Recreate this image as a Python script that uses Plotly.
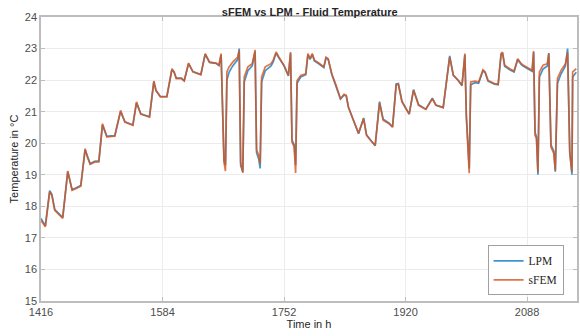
import plotly.graph_objects as go

time_h = [1416, 1419, 1422, 1428, 1431, 1435, 1439, 1446, 1453, 1459, 1464, 1471,
          1477, 1480, 1484, 1490, 1496, 1501, 1507, 1513, 1518, 1526, 1532, 1543,
          1548, 1554, 1563, 1566, 1572, 1575, 1581, 1590, 1597, 1600, 1603, 1610,
          1614, 1620, 1626, 1637, 1643, 1649, 1658, 1662, 1665, 1668, 1669, 1671,
          1673, 1676, 1681, 1688, 1690, 1692, 1695, 1697, 1702, 1708, 1712, 1714,
          1717, 1719, 1721, 1726, 1734, 1737, 1741, 1745, 1752, 1758, 1761, 1763,
          1766, 1768, 1770, 1775, 1782, 1785, 1788, 1791, 1794, 1800, 1807, 1810,
          1813, 1818, 1824, 1830, 1835, 1838, 1841, 1848, 1855, 1862, 1866, 1871,
          1878, 1884, 1889, 1897, 1902, 1907, 1910, 1915, 1925, 1931, 1938, 1948,
          1957, 1962, 1972, 1981, 1986, 1993, 1998, 2002, 2004, 2008, 2010, 2016,
          2021, 2027, 2030, 2034, 2043, 2048, 2052, 2054, 2057, 2064, 2070, 2075,
          2080, 2083, 2090, 2095, 2097, 2099, 2101, 2103, 2105, 2110, 2116, 2118,
          2121, 2125, 2127, 2130, 2135, 2141, 2144, 2147, 2150, 2151, 2156]

sfem = [17.55, 17.45, 17.35, 18.46, 18.35, 17.87, 17.77, 17.62, 19.12, 18.51, 18.56, 18.64,
        19.83, 19.56, 19.33, 19.40, 19.41, 20.62, 20.20, 20.21, 20.22, 21.04, 20.67, 20.57,
        21.31, 20.92, 20.87, 20.83, 21.97, 21.68, 21.47, 21.47, 22.36, 22.26, 22.05, 22.05,
        21.97, 22.54, 22.26, 22.17, 22.84, 22.57, 22.54, 22.47, 22.84, 19.56, 19.40, 19.12,
        22.26, 22.42, 22.57, 22.73, 22.94, 19.40, 19.06, 22.10, 22.42, 22.52, 22.96, 19.78,
        19.62, 19.35, 22.10, 22.42, 22.52, 22.63, 22.89, 22.73, 22.47, 22.15, 22.89, 20.04,
        19.88, 19.06, 21.99, 22.15, 22.20, 22.84, 22.68, 22.84, 22.63, 22.54, 22.42, 22.73,
        22.68, 22.20, 21.84, 21.41, 21.55, 21.52, 21.15, 20.73, 20.32, 20.78, 20.25, 20.11,
        19.93, 21.28, 20.73, 20.62, 20.51, 21.84, 21.87, 21.31, 20.92, 21.68, 21.20, 21.07,
        21.41, 21.20, 21.13, 22.73, 22.15, 21.99, 21.84, 22.84, 20.83, 19.05, 21.94, 21.97,
        21.94, 22.33, 22.26, 21.99, 21.89, 21.87, 22.84, 22.89, 22.47, 22.36, 22.29, 22.68,
        22.52, 22.47, 22.36, 22.31, 22.92, 20.25, 20.15, 19.09, 22.26, 22.47, 22.52, 22.84,
        19.88, 19.67, 19.14, 22.05, 22.31, 22.52, 22.88, 19.67, 19.09, 22.26, 22.36]

lpm = [17.62, 17.50, 17.38, 18.50, 18.38, 17.90, 17.80, 17.65, 19.10, 18.53, 18.58, 18.66,
       19.80, 19.58, 19.35, 19.43, 19.44, 20.58, 20.22, 20.23, 20.24, 21.00, 20.68, 20.58,
       21.28, 20.93, 20.88, 20.84, 21.95, 21.66, 21.48, 21.48, 22.33, 22.25, 22.06, 22.06,
       21.98, 22.52, 22.27, 22.18, 22.82, 22.56, 22.53, 22.46, 22.80, 19.60, 19.45, 19.30,
       22.00, 22.25, 22.45, 22.65, 23.00, 19.30, 19.10, 21.95, 22.30, 22.45, 22.90, 19.70,
       19.50, 19.20, 21.95, 22.30, 22.45, 22.58, 22.86, 22.70, 22.45, 22.13, 22.85, 20.10,
       19.95, 19.30, 21.90, 22.10, 22.17, 22.80, 22.66, 22.81, 22.61, 22.52, 22.40, 22.70,
       22.66, 22.18, 21.82, 21.40, 21.53, 21.50, 21.14, 20.71, 20.30, 20.80, 20.27, 20.12,
       19.92, 21.32, 20.76, 20.64, 20.52, 21.88, 21.89, 21.33, 20.92, 21.70, 21.22, 21.08,
       21.43, 21.21, 21.13, 22.77, 22.16, 21.98, 21.82, 22.80, 20.90, 19.20, 21.85, 21.92,
       21.90, 22.30, 22.24, 21.97, 21.87, 21.85, 22.80, 22.86, 22.44, 22.33, 22.26, 22.65,
       22.49, 22.44, 22.34, 22.28, 22.88, 20.35, 20.20, 19.00, 22.10, 22.35, 22.45, 22.86,
       19.95, 19.75, 19.10, 21.90, 22.20, 22.45, 23.00, 19.75, 19.00, 22.10, 22.25]

x_ticks = [1416, 1584, 1752, 1920, 2088]

fig = go.Figure()
fig.add_trace(go.Scatter(x=time_h, y=lpm, mode="lines", name="LPM",
                         line=dict(color="rgba(0,114,189,0.75)", width=1.7)))
fig.add_trace(go.Scatter(x=time_h, y=sfem, mode="lines", name="sFEM",
                         line=dict(color="rgba(217,83,25,0.8)", width=1.7)))

axis_common = dict(showline=True, linecolor="#bdbdbd", linewidth=1.5, mirror="ticks",
                   ticks="inside", ticklen=4, tickcolor="#bdbdbd",
                   showgrid=True, gridcolor="#ececec", gridwidth=1, zeroline=False,
                   tickfont=dict(family="Liberation Sans, Arial", size=11, color="#4d4d4d"))

fig.update_layout(
    width=580, height=336,
    margin=dict(l=41, r=1, t=17, b=35),
    paper_bgcolor="white", plot_bgcolor="white",
    title=dict(text="<b>sFEM vs LPM - Fluid Temperature</b>", x=0.534, xanchor="center",
               y=0.975, yanchor="top",
               font=dict(family="Liberation Sans, Arial", size=11, color="#262626")),
    xaxis=dict(range=[1416, 2157], tickvals=x_ticks, ticktext=[str(v) for v in x_ticks],
               title=dict(text="Time in h", standoff=2,
                          font=dict(family="Liberation Sans, Arial", size=11, color="#262626")),
               **axis_common),
    yaxis=dict(range=[15, 24], dtick=1,
               title=dict(text="Temperature in °C", standoff=4,
                          font=dict(family="Liberation Sans, Arial", size=11, color="#262626")),
               **axis_common),
    legend=dict(x=0.975, y=0.02, xanchor="right", yanchor="bottom",
                bgcolor="white", bordercolor="#a0a0a0", borderwidth=1,
                font=dict(family="Liberation Serif, Times New Roman", size=11.5, color="#262626"),
                tracegroupgap=0, itemwidth=30),
    showlegend=True,
)

fig.write_html("out.html", config={"displayModeBar": False},
               post_script="document.body.style.margin='0';document.body.style.padding='0';")
